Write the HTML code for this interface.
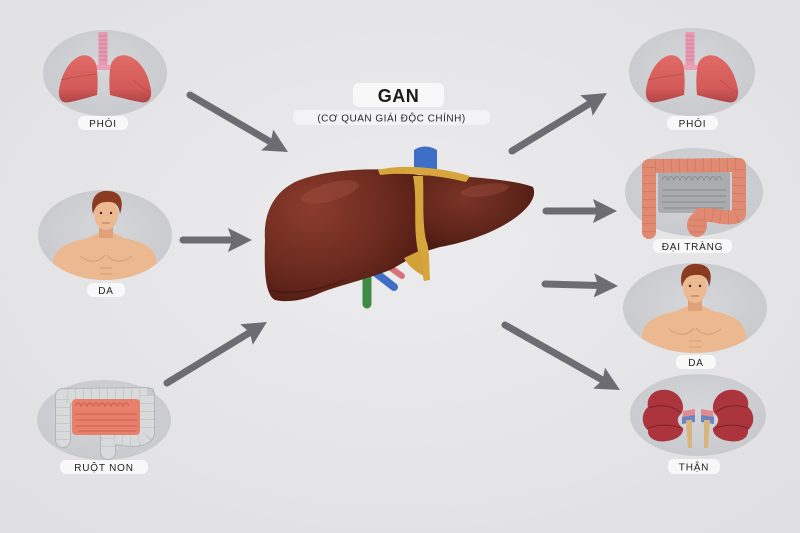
<!DOCTYPE html>
<html><head><meta charset="utf-8"><style>
html,body{margin:0;padding:0;background:#e5e5e7;}
svg{display:block;}
text{font-family:"Liberation Sans","DejaVu Sans",sans-serif;}
</style></head><body>
<svg width="800" height="533" viewBox="0 0 800 533" xmlns="http://www.w3.org/2000/svg">
<defs>
<radialGradient id="bg" cx="0.5" cy="0.45" r="0.7">
<stop offset="0" stop-color="#ececee"/><stop offset="1" stop-color="#e0e0e3"/></radialGradient>
<radialGradient id="circ" cx="0.5" cy="0.45" r="0.6">
<stop offset="0" stop-color="#d6d7da"/><stop offset="1" stop-color="#c8c9cd"/></radialGradient>
<radialGradient id="liv" cx="0.3" cy="0.3" r="0.8">
<stop offset="0" stop-color="#8a3c2d"/><stop offset="0.6" stop-color="#6c2a1e"/><stop offset="1" stop-color="#4c1a13"/></radialGradient>
<radialGradient id="liv2" cx="0.4" cy="0.3" r="0.8">
<stop offset="0" stop-color="#7a3326"/><stop offset="0.6" stop-color="#5e2419"/><stop offset="1" stop-color="#431611"/></radialGradient>
<linearGradient id="lung" x1="0" y1="0" x2="0" y2="1">
<stop offset="0" stop-color="#e06b66"/><stop offset="0.7" stop-color="#d35a57"/><stop offset="1" stop-color="#b04547"/></linearGradient>
<marker id="ah" markerUnits="userSpaceOnUse" markerWidth="30" markerHeight="30" refX="6" refY="12" orient="auto">
<path d="M0,0 L24,12 L0,24 L4,12 Z" fill="#6c6c72"/></marker>
<clipPath id="cl1"><ellipse cx="105" cy="235" rx="67" ry="45"/></clipPath>
<clipPath id="cl2"><ellipse cx="695" cy="308" rx="72" ry="45"/></clipPath>
<g id="lungs">
<path d="M98.5,32 h9 v36 h-9 z" fill="#e79ab2"/>
<g stroke="#c97892" stroke-width="0.7">
<line x1="98.5" y1="36" x2="107.5" y2="36"/><line x1="98.5" y1="40" x2="107.5" y2="40"/><line x1="98.5" y1="44" x2="107.5" y2="44"/><line x1="98.5" y1="48" x2="107.5" y2="48"/><line x1="98.5" y1="52" x2="107.5" y2="52"/><line x1="98.5" y1="56" x2="107.5" y2="56"/><line x1="98.5" y1="60" x2="107.5" y2="60"/></g>
<path d="M95,65 L111,65 L115,70 L91,70 Z" fill="#eaa0b6"/>
<path d="M96,64 C93,56 85,53 78,57 C67,63 61,77 59,90 C58,99 62,104 70,102 C80,100 90,97 97,95 C98,85 98,73 96,64 Z" fill="url(#lung)"/>
<path d="M111,64 C114,56 123,53 131,57 C143,63 149,77 151,90 C152,99 148,104 140,102 C129,100 118,97 110,95 C109,85 109,73 111,64 Z" fill="url(#lung)"/>
<path d="M61,80 C72,77 83,76 96,74" stroke="#b8474a" stroke-width="0.7" fill="none"/>
<path d="M133,80 C140,86 145,90 150,92" stroke="#b8474a" stroke-width="0.7" fill="none"/>
</g>
<g id="person">
<path d="M48,292 L54,258 C58,246 70,242 88,238 L98,233 L114,233 L124,238 C142,242 152,246 156,258 L162,292 Z" fill="#ebb88f"/>
<rect x="99" y="222" width="14" height="16" fill="#dfa27a"/>
<ellipse cx="106" cy="214" rx="12" ry="16" fill="#ecb990"/>
<path d="M93,214 C89,196 99,190 108,191 C119,191 125,199 120,214 C119,205 115,201 106,202 C99,202 95,206 93,214 Z" fill="#8a3b20"/>
<circle cx="101" cy="213" r="1.2" fill="#3a2a22"/><circle cx="111" cy="213" r="1.2" fill="#3a2a22"/>
<path d="M102,223 h8" stroke="#b8745a" stroke-width="1"/>
<g stroke="#cf9570" stroke-width="0.8" fill="none">
<path d="M80,256 C90,264 100,262 105,255"/><path d="M107,255 C112,262 122,264 132,256"/>
<path d="M100,268 h12 M100,274 h12"/></g>
</g>
</defs>
<rect width="800" height="533" fill="url(#bg)"/>

<!-- circles -->
<ellipse cx="105" cy="73" rx="62" ry="43" fill="url(#circ)"/>
<ellipse cx="105" cy="235" rx="67" ry="45" fill="url(#circ)"/>
<ellipse cx="104" cy="420" rx="67" ry="40" fill="url(#circ)"/>
<ellipse cx="692" cy="72" rx="63" ry="44" fill="url(#circ)"/>
<ellipse cx="694" cy="192" rx="69" ry="44" fill="url(#circ)"/>
<ellipse cx="695" cy="308" rx="72" ry="45" fill="url(#circ)"/>
<ellipse cx="698" cy="415" rx="68" ry="41" fill="url(#circ)"/>

<!-- lungs -->
<use href="#lungs"/>
<use href="#lungs" transform="translate(587,0)"/>

<!-- persons -->
<g clip-path="url(#cl1)"><use href="#person"/></g>
<g clip-path="url(#cl2)"><use href="#person" transform="translate(589,73)"/></g>

<!-- small intestine (ruột non) -->
<path d="M63,440 L63,396 L147,395 L147,432 C147,440 130,440 115,437 L108,437 L108,452" fill="none" stroke="#b4b5b8" stroke-width="16" stroke-linejoin="round" stroke-linecap="round"/>
<path d="M63,440 L63,396 L147,395 L147,432 C147,440 130,440 115,437 L108,437 L108,452" fill="none" stroke="#d9dadc" stroke-width="14" stroke-linejoin="round" stroke-linecap="round"/>
<path d="M63,440 L63,396 L147,395 L147,432 C147,440 130,440 115,437 L108,437 L108,452" fill="none" stroke="#a9aaad" stroke-width="14" stroke-dasharray="1 7" opacity="0.35"/>
<rect x="72" y="399" width="68" height="36" rx="4" fill="#e8806b"/>
<g stroke="#c65f4c" stroke-width="0.9" fill="none">
<path d="M75,406 q3,-6 6,0 q3,-6 6,0 q3,-6 6,0 q3,-6 6,0 q3,-6 6,0 q3,-6 6,0 q3,-6 6,0 q3,-6 6,0 q3,-6 6,0"/>
<path d="M75,414 h62 M75,420 h62 M75,426 h62 M78,431 h58"/></g>

<!-- colon (đại tràng) -->
<rect x="658" y="171" width="72" height="42" rx="3" fill="#aaacaf"/>
<g stroke="#888a8e" stroke-width="0.9" fill="none">
<path d="M662,180 q3,-7 6,0 q3,-7 6,0 q3,-7 6,0 q3,-7 6,0 q3,-7 6,0 q3,-7 6,0 q3,-7 6,0 q3,-7 6,0 q3,-7 6,0 q3,-7 6,0"/>
<path d="M662,190 h64 M662,196 h64 M662,202 h64 M664,208 h60"/></g>
<path d="M649,232 L649,166 L739,165 L739,213 C739,219 725,218 712,215 L700,215" fill="none" stroke="#e08a72" stroke-width="14" stroke-linejoin="round" stroke-linecap="round"/>
<ellipse cx="697" cy="225" rx="10" ry="12" fill="#e08a72"/>
<path d="M649,232 L649,166 L739,165 L739,213 C739,219 725,218 712,215 L700,215" fill="none" stroke="#b8604c" stroke-width="14" stroke-dasharray="1 7" opacity="0.3"/>
<path d="M690,220 h14 M689,226 h16 M690,232 h14" stroke="#b8604c" stroke-width="1" opacity="0.4"/>

<!-- kidneys -->
<g id="kid">
<path d="M683,411 L695,409 L695,420 L682,422 Z" fill="#e08a94"/>
<path d="M682,417 L695,415 L695,422 L682,424 Z" fill="#6a84c4"/>
<path d="M686,420 L692,420 L692,448 L688,448 Z" fill="#d9b57e"/>
<path d="M668,390 C654,388 646,397 648,407 C641,413 641,425 648,430 C647,438 656,443 667,441 C677,440 684,434 683,428 C677,424 676,418 681,414 C686,408 682,393 668,390 Z" fill="#ab343d"/>
<g stroke="#7a1f28" stroke-width="0.9" fill="none">
<path d="M649,408 C658,404 671,405 680,412"/><path d="M647,429 C656,424 669,424 681,428"/></g>
</g>
<use href="#kid" transform="translate(1396,0) scale(-1,1)"/>

<!-- liver vessels (behind) -->
<path d="M300,289 C318,278 338,276 352,273" stroke="#3f8a47" stroke-width="10" fill="none" stroke-linecap="round"/>
<path d="M367,272 L367,304" stroke="#3f8a47" stroke-width="9" fill="none" stroke-linecap="round"/>
<path d="M372,270 L394,287" stroke="#3f6fc4" stroke-width="8" fill="none" stroke-linecap="round"/>
<path d="M388,266 L402,276" stroke="#d9737a" stroke-width="6" fill="none" stroke-linecap="round"/>
<path d="M414,172 L414,150 Q425,143 437,150 L437,172 Z" fill="#3d6fc6"/>

<!-- liver -->
<path d="M265,240 C263,212 275,192 295,182 C320,171 360,168 395,170 L418,175 C420,200 418,230 423,252 C410,258 400,265 390,270 C365,280 340,285 320,293 C305,300 288,303 275,300 C265,295 264,270 265,240 Z" fill="url(#liv)"/>
<path d="M418,175 L470,177 C495,179 520,182 533,187 C537,196 530,207 515,218 C495,232 468,242 440,247 L423,252 C418,230 420,200 418,175 Z" fill="url(#liv2)"/>
<ellipse cx="330" cy="192" rx="30" ry="9" transform="rotate(-15 330 192)" fill="#a0503f" opacity="0.45"/>
<ellipse cx="485" cy="190" rx="24" ry="6" transform="rotate(-8 485 190)" fill="#9a4c3d" opacity="0.45"/>
<path d="M270,290 C290,296 320,290 345,280" stroke="#3e140f" stroke-width="2" fill="none" opacity="0.5"/>
<!-- gold ligament -->
<path d="M378,170 C400,164 440,167 470,176 L466,182 C440,175 400,172 380,175 Z" fill="#d6a63c"/>
<path d="M413,176 C418,200 412,230 419,255 C423,265 422,275 424,281 L430,280 C429,266 430,250 426,240 C422,220 424,200 423,176 Z" fill="#d6a63c"/>
<path d="M404,258 L421,250 L424,276 C414,271 408,265 404,258 Z" fill="#d3a03a"/>

<!-- arrows -->
<g stroke="#6c6c72" stroke-width="7" stroke-linecap="round" fill="none" marker-end="url(#ah)">
<line x1="190" y1="95" x2="272.4" y2="143"/>
<line x1="183" y1="240" x2="234" y2="240"/>
<line x1="167" y1="383" x2="251.6" y2="331.4"/>
<line x1="512" y1="151" x2="591.6" y2="102.4"/>
<line x1="546" y1="211" x2="599" y2="211"/>
<line x1="545" y1="284" x2="600" y2="285.5"/>
<line x1="505" y1="325" x2="604.3" y2="381.1"/>
</g>

<!-- title -->
<rect x="353" y="83" width="91" height="24" rx="6" fill="#f8f8f9"/>
<text x="398.5" y="102" font-size="18" font-weight="bold" text-anchor="middle" fill="#1b1b1b" letter-spacing="0.5">GAN</text>
<rect x="293" y="110" width="197" height="15" rx="6" fill="#f3f3f5"/>
<text x="391.5" y="121.5" font-size="10" text-anchor="middle" fill="#2a2a2a" letter-spacing="0.5">(CƠ QUAN GIÁI ĐỘC CHÍNH)</text>

<!-- labels -->
<g font-size="10" text-anchor="middle" fill="#222" letter-spacing="0.8">
<rect x="78" y="116" width="50" height="14" rx="6" fill="#f8f8f9"/><text x="103" y="127">PHÓI</text>
<rect x="87" y="283" width="38" height="14" rx="6" fill="#f8f8f9"/><text x="106" y="294">DA</text>
<rect x="60" y="460" width="88" height="14" rx="6" fill="#f8f8f9"/><text x="104" y="471">RUỘT NON</text>
<rect x="667" y="116" width="51" height="14" rx="6" fill="#f8f8f9"/><text x="692.5" y="127">PHÓI</text>
<rect x="653" y="239" width="79" height="14" rx="6" fill="#f8f8f9"/><text x="692.5" y="250">ĐẠI TRÀNG</text>
<rect x="676" y="355" width="40" height="14" rx="6" fill="#f8f8f9"/><text x="696" y="366">DA</text>
<rect x="668" y="459" width="52" height="15" rx="6" fill="#f8f8f9"/><text x="694" y="470.5">THẬN</text>
</g>
</svg>
</body></html>
